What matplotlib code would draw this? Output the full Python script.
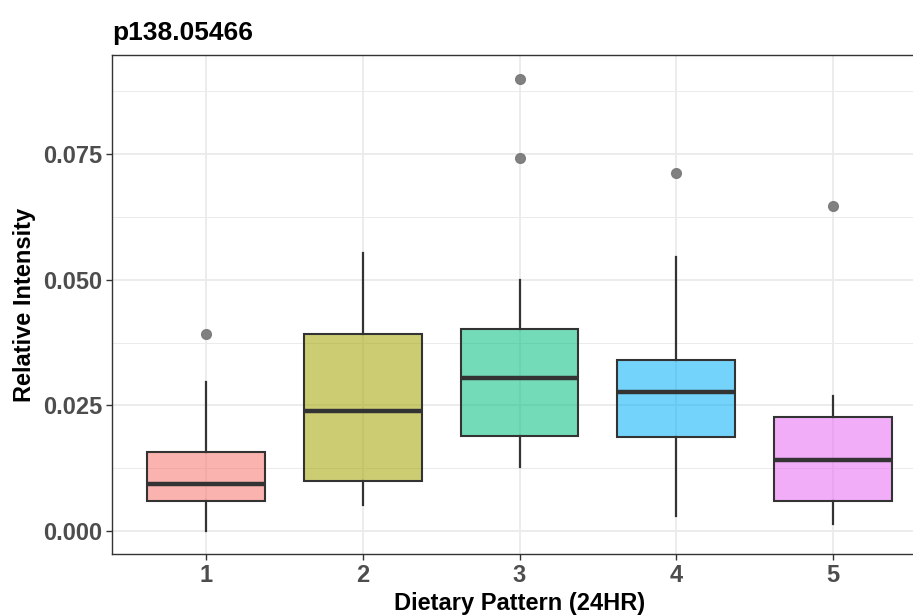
import matplotlib
matplotlib.use("Agg")
import matplotlib.pyplot as plt
from matplotlib.ticker import MultipleLocator

# Summary statistics per dietary pattern
groups = ["1", "2", "3", "4", "5"]
whisker_low = [0.0001, 0.00528, 0.01274, 0.00311, 0.00152]
q1 = [0.00608, 0.00990, 0.01900, 0.01868, 0.00608]
median = [0.00944, 0.02395, 0.03048, 0.02771, 0.01419]
q3 = [0.01583, 0.03926, 0.04012, 0.03398, 0.02264]
whisker_high = [0.02969, 0.05522, 0.04995, 0.05456, 0.02692]
outliers = [[0.03926], [], [0.07410, 0.08993], [0.07119], [0.06471]]
fill_colors = ["#F8766D", "#A3A500", "#00BF7D", "#00B0F6", "#E76BF3"]

plt.rcParams["font.family"] = ["Liberation Sans", "DejaVu Sans"]

W, H = 913, 616
fig = plt.figure(figsize=(W / 100, H / 100), dpi=100)
left, right, top, bottom = 112, 927, 55, 554
ax = fig.add_axes([left / W, 1 - bottom / H, (right - left) / W, (bottom - top) / H])

stats = []
for i, g in enumerate(groups):
    stats.append(dict(label=g, whislo=whisker_low[i], q1=q1[i], med=median[i],
                      q3=q3[i], whishi=whisker_high[i], fliers=outliers[i]))

positions = list(range(1, len(groups) + 1))
dark = "#333333"
bp = ax.bxp(stats, positions=positions, widths=0.75, patch_artist=True,
            showcaps=False, zorder=3,
            boxprops=dict(edgecolor=dark, linewidth=1.5),
            whiskerprops=dict(color=dark, linewidth=1.6),
            medianprops=dict(color=dark, linewidth=3.2, solid_capstyle="butt"),
            flierprops=dict(marker="o", markersize=7, markerfacecolor="#7a7a7a",
                            markeredgecolor="#7a7a7a", alpha=0.95))
for patch, c in zip(bp["boxes"], fill_colors):
    patch.set_facecolor(matplotlib.colors.to_rgba(c, 0.55))

ax.set_xlim(0.4, 5.6)
ax.set_ylim(-0.0045, 0.0946)
ax.yaxis.set_major_locator(MultipleLocator(0.025))
ax.yaxis.set_minor_locator(MultipleLocator(0.0125))
ax.set_yticks([0.0, 0.025, 0.05, 0.075])
ax.set_yticklabels(["0.000", "0.025", "0.050", "0.075"])
ax.set_xticks(positions)
ax.set_xticklabels(groups)

ax.grid(True, which="major", color="#EBEBEB", linewidth=1.3, zorder=0)
ax.grid(True, which="minor", axis="y", color="#EBEBEB", linewidth=0.7, zorder=0)
ax.set_axisbelow(True)

for s in ax.spines.values():
    s.set_color(dark)
    s.set_linewidth(1.0)

ax.tick_params(axis="both", which="major", length=4, width=1.0, color=dark,
               labelcolor="#4D4D4D", labelsize=17, pad=3)
ax.tick_params(axis="both", which="minor", length=0)
for lbl in ax.get_xticklabels() + ax.get_yticklabels():
    lbl.set_fontweight("bold")

ax.set_xlabel("Dietary Pattern (24HR)", fontsize=17, fontweight="bold",
              color="black", labelpad=4)
ax.set_ylabel("Relative Intensity", fontsize=17, fontweight="bold",
              color="black", labelpad=5)
ax.set_title("p138.05466", loc="left", fontsize=19, fontweight="bold",
             color="black", pad=11)

fig.savefig("out.png", dpi=100)
